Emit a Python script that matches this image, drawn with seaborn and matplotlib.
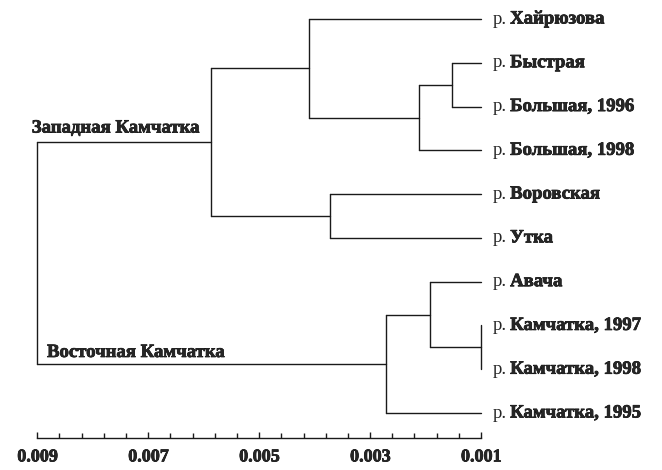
import matplotlib
matplotlib.use("Agg")
import matplotlib.pyplot as plt
import matplotlib.patheffects as pe
import numpy as np
import pandas as pd
import seaborn as sns

# Leaves, top to bottom
rivers = ["Хайрюзова", "Быстрая", "Большая, 1996", "Большая, 1998",
          "Воровская", "Утка", "Авача", "Камчатка, 1997",
          "Камчатка, 1998", "Камчатка, 1995"]
leaf_level = 0.001

# Merges: (left child, right child, distance); children < 10 are leaves,
# larger numbers refer to earlier merges (10 + merge index)
merge_left = [1, 10, 0, 4, 12, 7, 6, 16, 14]
merge_right = [2, 3, 11, 5, 13, 8, 15, 9, 17]
merge_dist = [0.00153, 0.00212, 0.00411, 0.00372, 0.00587,
              0.00100, 0.00192, 0.00271, 0.00900]

group_names = ["Западная Камчатка", "Восточная Камчатка"]

tick_major = [0.009, 0.007, 0.005, 0.003, 0.001]
tick_labels = ["0.009", "0.007", "0.005", "0.003", "0.001"]

sns.set_theme(style="white")
plt.rcParams["font.family"] = ["Liberation Serif", "DejaVu Serif"]

# Build the segments of the tree
pos = {i: (leaf_level, float(i)) for i in range(len(rivers))}
segs = []
for k, (a, b, d) in enumerate(zip(merge_left, merge_right, merge_dist)):
    xa, ya = pos[a]
    xb, yb = pos[b]
    segs.append([(xa, ya), (d, ya)])
    segs.append([(xb, yb), (d, yb)])
    segs.append([(d, ya), (d, yb)])
    pos[10 + k] = (d, (ya + yb) / 2)

rows = []
for sid, seg in enumerate(segs):
    for x, y in seg:
        rows.append({"x": x, "y": y, "seg": sid})
df = pd.DataFrame(rows)

W, H = 662, 470
fig = plt.figure(figsize=(W / 100, H / 100), dpi=100)
x0, x1 = 37.3, 481.0
y_top, y_axis = 19.0, 438.0
step = 43.78
ax = fig.add_axes([x0 / W, 1 - y_axis / H, (x1 - x0) / W, y_axis / H])

sns.lineplot(data=df, x="x", y="y", units="seg", estimator=None, sort=False,
             color="#1a1a1a", linewidth=1.0, ax=ax, legend=False)
for ln in ax.lines:
    ln.set_clip_on(False)

ax.set_xlim(0.009, 0.001)
ax.set_ylim((y_axis - y_top) / step, -y_top / step)
ax.set_xlabel("")
ax.set_ylabel("")
ax.set_yticks([])
for s in ["top", "right", "left"]:
    ax.spines[s].set_visible(False)
ax.spines["bottom"].set_color("#1a1a1a")
ax.spines["bottom"].set_linewidth(1.0)

heavy = [pe.withStroke(linewidth=0.5, foreground="black")]

ax.set_xticks(tick_major)
ax.set_xticklabels(tick_labels, fontsize=13, fontweight="bold")
for lab in ax.get_xticklabels():
    lab.set_path_effects(heavy)
ax.set_xticks(np.arange(0.0014, 0.009, 0.0004), minor=True)
ax.tick_params(axis="x", which="major", direction="in", length=4.5,
               width=1.0, color="#1a1a1a", pad=7.5, bottom=True)
ax.tick_params(axis="x", which="minor", direction="in", length=3.5,
               width=1.0, color="#1a1a1a", bottom=True)

FS = 13.5
# Leaf labels: "р." in regular weight, river name in bold
fig.canvas.draw()
renderer = fig.canvas.get_renderer()
for i, name in enumerate(rivers):
    t = ax.annotate("р.", xy=(leaf_level, i), xytext=(8.5, 0),
                    textcoords="offset points", ha="left", va="center",
                    fontsize=FS, annotation_clip=False)
    w = t.get_window_extent(renderer).width
    ax.annotate(name, xy=(leaf_level, i), xytext=(8.5 + w * 0.72 + 2.3, 0),
                textcoords="offset points", ha="left", va="center",
                fontsize=FS, fontweight="bold", annotation_clip=False,
                path_effects=heavy)

# Group labels above the two main branches
west_y = pos[14][1]
east_y = pos[17][1]
ax.annotate(group_names[0], xy=(0.009, west_y), xytext=(-4, 4),
            textcoords="offset points", ha="left", va="bottom",
            fontsize=FS, fontweight="bold", annotation_clip=False,
            path_effects=heavy)
ax.annotate(group_names[1], xy=(0.009, east_y), xytext=(7, 2),
            textcoords="offset points", ha="left", va="bottom",
            fontsize=FS, fontweight="bold", annotation_clip=False,
            path_effects=heavy)

fig.patch.set_facecolor("white")
fig.savefig("out.png", dpi=100, facecolor="white")
